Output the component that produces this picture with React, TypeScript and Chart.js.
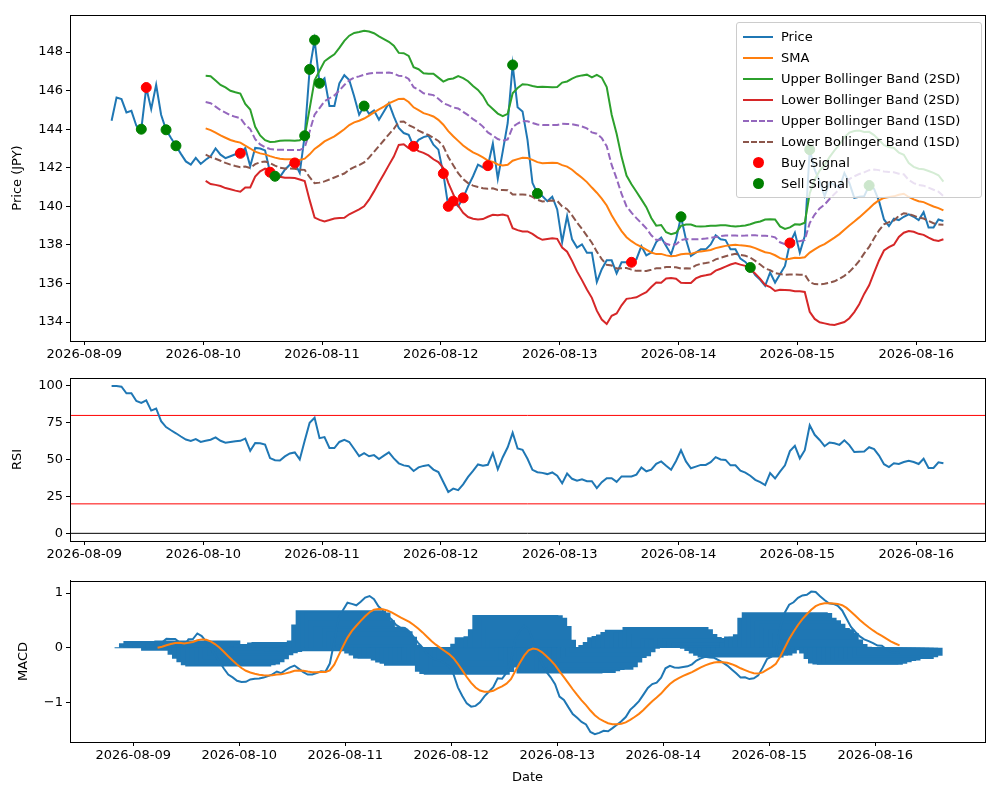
import React, { useEffect, useRef } from "react";
import { Chart, registerables } from "chart.js";
Chart.register(...registerables);

// Hourly closing price (JPY), starting 2026-08-09 05:30
const price: number[] = [
  144.44, 145.64, 145.56, 144.87, 144.95, 144.18, 144.0, 146.16, 145.04, 146.3,
  144.75, 143.97, 143.54, 143.14, 142.72, 142.33, 142.16, 142.51, 142.2, 142.42,
  142.59, 143.0, 142.68, 142.5, 142.6, 142.7, 142.75, 143.03, 142.08, 143.03,
  143.0, 142.9, 141.77, 141.56, 141.53, 141.9, 142.16, 142.25, 141.73, 143.66,
  147.1, 148.62, 146.38, 146.64, 145.2, 145.2, 146.38, 146.8, 146.55, 145.7,
  144.75, 145.2, 144.8, 144.97, 144.49, 144.92, 145.35, 144.66, 144.06, 143.8,
  143.71, 143.11, 143.45, 143.59, 143.66, 143.2, 142.94, 141.7, 140.0, 140.27,
  140.0, 140.44, 141.04, 141.56, 142.16, 142.02, 142.11, 143.25, 141.43, 142.85,
  144.32, 147.33, 145.14, 144.92, 143.45, 141.22, 140.67, 140.53, 140.27, 140.5,
  139.84, 138.15, 139.5, 138.29, 137.86, 138.03, 137.6, 137.6, 136.08, 136.74,
  137.2, 137.2, 136.53, 137.1, 137.1, 137.1, 137.26, 137.94, 137.46, 137.6,
  138.15, 138.38, 137.94, 137.51, 138.29, 139.46, 138.29, 137.43, 137.6, 137.77,
  137.77, 138.03, 138.5, 138.29, 138.25, 137.77, 137.77, 137.29, 137.12, 136.83,
  136.43, 136.19, 135.88, 136.57, 136.05, 136.48, 136.91, 138.1, 138.64, 137.6,
  138.46, 142.94, 141.9, 141.3, 140.53, 141.22, 141.13, 140.96, 141.73, 141.22,
  140.44, 140.5, 140.53, 141.08, 140.9, 140.27, 139.32, 138.98, 139.36, 139.29,
  139.46, 139.58, 139.46, 139.29, 139.7, 138.9, 138.9, 139.32, 139.24,
];
const buyIdx: number[] = [7, 26, 32, 37, 61, 67, 68, 69, 71, 76, 105, 137];
const sellIdx: number[] = [6, 11, 13, 33, 39, 40, 41, 42, 51, 81, 86, 115, 129, 141, 153];
const dayLabels: string[] = ["2026-08-09", "2026-08-10", "2026-08-11", "2026-08-12", "2026-08-13", "2026-08-14", "2026-08-15", "2026-08-16"];
const priceTicks: number[] = [134, 136, 138, 140, 142, 144, 146, 148];
const rsiTicks: number[] = [0, 25, 50, 75, 100];
const macdTicks: number[] = [-1, 0, 1];
const START_HOURS = 5.5;

const C = { blue: "#1f77b4", orange: "#ff7f0e", green: "#2ca02c", red: "#d62728", purple: "#9467bd", brown: "#8c564b" };
const FONT = "'DejaVu Sans', sans-serif";

const xs = price.map((_, i) => (START_HOURS + i) / 24);
const N = price.length;

function sma(w: number) {
  return price.map((_, i) => {
    if (i < w - 1) return null;
    let s = 0;
    for (let k = i - w + 1; k <= i; k++) s += price[k];
    return s / w;
  });
}
function sstd(w: number) {
  return price.map((_, i) => {
    if (i < w - 1) return null;
    let s = 0;
    for (let k = i - w + 1; k <= i; k++) s += price[k];
    const m = s / w;
    let v = 0;
    for (let k = i - w + 1; k <= i; k++) v += (price[k] - m) ** 2;
    return Math.sqrt(v / (w - 1));
  });
}
function ema(arr: number[], span: number) {
  const a = 2 / (span + 1);
  const out: number[] = [];
  arr.forEach((v, i) => out.push(i === 0 ? v : a * v + (1 - a) * out[i - 1]));
  return out;
}
const mid = sma(20);
const sd = sstd(20);
const band = (k: number) => mid.map((m, i) => (m === null ? null : m + k * (sd[i] as number)));

const rsi: number[] = (() => {
  const a = 1 / 14;
  let g = 0, l = 0;
  return price.map((p, i) => {
    if (i === 0) return 100;
    const d = p - price[i - 1];
    if (i === 1) { g = Math.max(d, 0); l = Math.max(-d, 0); }
    else { g = a * Math.max(d, 0) + (1 - a) * g; l = a * Math.max(-d, 0) + (1 - a) * l; }
    return l === 0 ? 100 : 100 - 100 / (1 + g / l);
  });
})();
const e12 = ema(price, 12);
const e26 = ema(price, 26);
const macd = e12.map((v, i) => v - e26[i]);
const signal = ema(macd, 9);
const hist = macd.map((v, i) => v - signal[i]);

const pts = (arr: (number | null)[]) => arr.map((y, i) => ({ x: xs[i], y }));

const frame = {
  id: "frame",
  afterDraw(chart: any) {
    const { ctx, chartArea: a } = chart;
    ctx.save();
    ctx.strokeStyle = "#000";
    ctx.lineWidth = 1;
    ctx.strokeRect(Math.round(a.left) + 0.5, Math.round(a.top) + 0.5, Math.round(a.right - a.left), Math.round(a.bottom - a.top));
    ctx.restore();
  },
};

function xScale(min: number, max: number, h: number, title?: string) {
  return {
    type: "linear",
    min,
    max,
    offset: false,
    afterBuildTicks: (s: any) => { s.ticks = dayLabels.map((_, i) => ({ value: i })); },
    afterFit: (s: any) => { s.height = h; },
    grid: { drawOnChartArea: false, color: "#000", tickLength: 4, offset: false },
    border: { color: "#000" },
    ticks: { color: "#000", font: { family: FONT, size: 13 }, maxRotation: 0, autoSkip: false, padding: 2, callback: (v: number) => dayLabels[v] ?? "" },
    title: title ? { display: true, text: title, color: "#000", font: { family: FONT, size: 13 }, padding: { top: 0, bottom: 15 } } : { display: false },
  };
}
function yScale(min: number, max: number, ticks: number[], title: string, tpad: number, fmt?: (v: number) => string) {
  return {
    type: "linear",
    min,
    max,
    afterBuildTicks: (s: any) => { s.ticks = ticks.map((v) => ({ value: v })); },
    afterFit: (s: any) => { s.width = 70; },
    grid: { drawOnChartArea: false, color: "#000", tickLength: 4 },
    border: { color: "#000" },
    ticks: { color: "#000", font: { family: FONT, size: 13 }, padding: 3, callback: fmt || ((v: number) => String(v)) },
    title: { display: true, text: title, color: "#000", font: { family: FONT, size: 13 }, padding: { top: tpad, bottom: 2 } },
  };
}

const line = (label: string, data: any[], color: string, dash: number[] = [], width = 2) => ({
  type: "line", label, data, borderColor: color, backgroundColor: color, borderWidth: width, borderDash: dash,
  pointRadius: 0, tension: 0, fill: false, spanGaps: false,
});

const pStart = xs[0] - 0.05 * (xs[N - 1] - xs[0]);
const pEnd = xs[N - 1] + 0.05 * (xs[N - 1] - xs[0]);
const mStart = -0.597;
const mEnd = 8.035;

function usePanel(ref: React.RefObject<HTMLCanvasElement>, make: () => any) {
  useEffect(() => {
    const c = new Chart(ref.current as HTMLCanvasElement, make());
    return () => c.destroy();
  }, []);
}

const base = (padTop: number) => ({
  responsive: false,
  animation: false,
  events: [],
  layout: { padding: { top: padTop, right: 15, left: 0, bottom: 0 } },
  plugins: { legend: { display: false }, tooltip: { enabled: false } },
});

export default function App() {
  const r1 = useRef<HTMLCanvasElement>(null);
  const r2 = useRef<HTMLCanvasElement>(null);
  const r3 = useRef<HTMLCanvasElement>(null);
  useEffect(() => { document.body.style.margin = "0"; }, []);

  usePanel(r1, () => ({
    type: "line",
    data: {
      datasets: [
        { type: "scatter", label: "Sell Signal", data: sellIdx.map((i) => ({ x: xs[i], y: price[i] })), backgroundColor: "#008000", borderColor: "#008000", pointRadius: 5, order: 0 },
        { type: "scatter", label: "Buy Signal", data: buyIdx.map((i) => ({ x: xs[i], y: price[i] })), backgroundColor: "#ff0000", borderColor: "#ff0000", pointRadius: 5, order: 0 },
        { ...line("Lower Bollinger Band (1SD)", pts(band(-1)), C.brown, [7, 3]), order: 1 },
        { ...line("Upper Bollinger Band (1SD)", pts(band(1)), C.purple, [7, 3]), order: 2 },
        { ...line("Lower Bollinger Band (2SD)", pts(band(-2)), C.red), order: 3 },
        { ...line("Upper Bollinger Band (2SD)", pts(band(2)), C.green), order: 4 },
        { ...line("SMA", pts(mid), C.orange), order: 5 },
        { ...line("Price", pts(price), C.blue), order: 6 },
      ],
    },
    options: { ...base(15), scales: { x: xScale(pStart, pEnd, 29), y: yScale(133.02, 149.92, priceTicks, "Price (JPY)", 10) } },
    plugins: [frame],
  }));

  usePanel(r2, () => ({
    type: "line",
    data: {
      datasets: [
        line("RSI", pts(rsi), C.blue),
        line("80", [{ x: pStart, y: 80 }, { x: pEnd, y: 80 }], "#ff0000", [], 1),
        line("20", [{ x: pStart, y: 20 }, { x: pEnd, y: 20 }], "#ff0000", [], 1),
        line("0", [{ x: pStart, y: 0 }, { x: pEnd, y: 0 }], "#000", [], 1),
      ],
    },
    options: { ...base(18), scales: { x: xScale(pStart, pEnd, 29), y: yScale(-5.2, 105.4, rsiTicks, "RSI", 10) } },
    plugins: [frame],
  }));

  usePanel(r3, () => ({
    type: "bar",
    data: {
      datasets: [
        { ...line("Signal", pts(signal), C.orange), order: 0 },
        { ...line("MACD", pts(macd), C.blue), order: 1 },
        { type: "bar", label: "Histogram", data: pts(hist), backgroundColor: C.blue, borderColor: C.blue, borderWidth: 0, inflateAmount: 0.5, barThickness: 85, order: 2 },
      ],
    },
    options: {
      ...base(9),
      scales: {
        x: xScale(mStart, mEnd, 58, "Date"),
        y: yScale(-1.72, 1.224, macdTicks, "MACD", 16, (v: number) => (v < 0 ? "\u2212" + Math.abs(v) : String(v))),
      },
    },
    plugins: [frame],
  }));

  const legendItems: { label: string; color: string; kind: "line" | "dash" | "dot" }[] = [
    { label: "Price", color: C.blue, kind: "line" },
    { label: "SMA", color: C.orange, kind: "line" },
    { label: "Upper Bollinger Band (2SD)", color: C.green, kind: "line" },
    { label: "Lower Bollinger Band (2SD)", color: C.red, kind: "line" },
    { label: "Upper Bollinger Band (1SD)", color: C.purple, kind: "dash" },
    { label: "Lower Bollinger Band (1SD)", color: C.brown, kind: "dash" },
    { label: "Buy Signal", color: "#ff0000", kind: "dot" },
    { label: "Sell Signal", color: "#008000", kind: "dot" },
  ];

  return (
    <div style={{ position: "relative", width: 1000, height: 800, background: "#fff", fontFamily: FONT }}>
      <canvas ref={r1} width={1000} height={370} style={{ position: "absolute", left: 0, top: 0 }} />
      <canvas ref={r2} width={1000} height={210} style={{ position: "absolute", left: 0, top: 360 }} />
      <canvas ref={r3} width={1000} height={230} style={{ position: "absolute", left: 0, top: 570 }} />
      <div style={{ position: "absolute", left: 736, top: 22, width: 244, padding: "3px 0", background: "rgba(255,255,255,0.8)", border: "1px solid #ccc", borderRadius: 3, fontSize: 13, color: "#000" }}>
        {legendItems.map((it) => (
          <div key={it.label} style={{ height: 21, display: "flex", alignItems: "center" }}>
            <div style={{ width: 30, marginLeft: 6, marginRight: 8, display: "flex", justifyContent: "center" }}>
              {it.kind === "dot" ? (
                <div style={{ width: 11, height: 11, borderRadius: "50%", background: it.color }} />
              ) : (
                <div style={{ width: 30, height: 0, borderTop: `2px ${it.kind === "dash" ? "dashed" : "solid"} ${it.color}` }} />
              )}
            </div>
            <span style={{ whiteSpace: "nowrap" }}>{it.label}</span>
          </div>
        ))}
      </div>
    </div>
  );
}
